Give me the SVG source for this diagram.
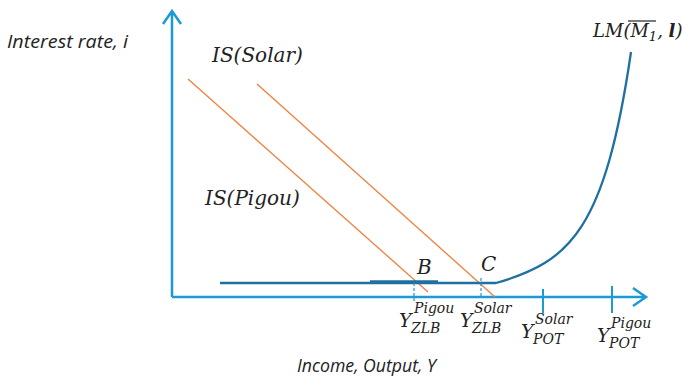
<svg xmlns="http://www.w3.org/2000/svg" width="682" height="379" viewBox="0 0 682 379">
<style>
.axis{stroke:#1b9ad6;stroke-width:2.5;fill:none}
.tick{stroke:#1b9ad6;stroke-width:2;fill:none}
.dash{stroke:#1b9ad6;stroke-width:1.2;stroke-dasharray:3 2;fill:none}
.is{stroke:#f07f3c;stroke-width:1.3;fill:none}
.lm{stroke:#1f6fa3;stroke-width:2.3;fill:none}
.math{font-family:"DejaVu Serif","Liberation Serif",serif;font-style:italic;fill:#222}
.lab{font-family:"Open Sans","Liberation Sans",sans-serif;font-style:italic;fill:#222;font-size:18px}
.big{font-size:20px}
.yl{font-size:19px}
.sm{font-size:14px}
.lmt{font-size:18px}
.sub1{font-size:13px}
</style>
<g id="axes">
<path class="axis" d="M172,297 V11 M163,24 L172,11 L181,24"/>
<path class="axis" d="M172,297 H646 M633,288 L646,297 L633,306"/>
<path class="tick" d="M543,289 V313 M612,286 V313"/>
</g>
<g id="connectors">
<path class="is" d="M188,79 L428,292"/>
<path class="is" d="M257,84 L495,297"/>
<path class="lm" d="M220,283 H496 C570,262 605,230 631,52"/>
<path class="lm" d="M370,281.5 H438" stroke-width="3"/>
<path class="dash" d="M414,283 V302"/>
<path class="dash" d="M481,278 V297"/>
</g>
<g id="labels">
<text class="lab" x="7" y="48" textLength="121" lengthAdjust="spacingAndGlyphs">Interest rate, i</text>
<text class="lab" x="297" y="372" textLength="139" lengthAdjust="spacingAndGlyphs">Income, Output, Y</text>
<text class="math big" x="212" y="62">IS(Solar)</text>
<text class="math big" x="205" y="205">IS(Pigou)</text>
<text class="math big" x="417" y="274">B</text>
<text class="math big" x="481" y="271">C</text>
<g id="lm-label">
<text class="math lmt" x="593" y="37">LM(M<tspan class="sub1" dy="4">1</tspan><tspan dy="-4">, </tspan><tspan font-weight="bold">l</tspan>)</text>
<line x1="628" y1="21" x2="656" y2="21" stroke="#222" stroke-width="1.2"/>
</g>
<g id="yzlb-pigou">
<text class="math yl" x="399" y="327">Y</text>
<text class="math sm" x="414" y="313">Pigou</text>
<text class="math sm" x="411" y="333">ZLB</text>
</g>
<g id="yzlb-solar">
<text class="math yl" x="460" y="327">Y</text>
<text class="math sm" x="474" y="313">Solar</text>
<text class="math sm" x="472" y="333">ZLB</text>
</g>
<g id="ypot-solar">
<text class="math yl" x="521" y="338">Y</text>
<text class="math sm" x="535" y="324">Solar</text>
<text class="math sm" x="533" y="344">POT</text>
</g>
<g id="ypot-pigou">
<text class="math yl" x="597" y="342">Y</text>
<text class="math sm" x="611" y="328">Pigou</text>
<text class="math sm" x="609" y="348">POT</text>
</g>
</g>
</svg>
